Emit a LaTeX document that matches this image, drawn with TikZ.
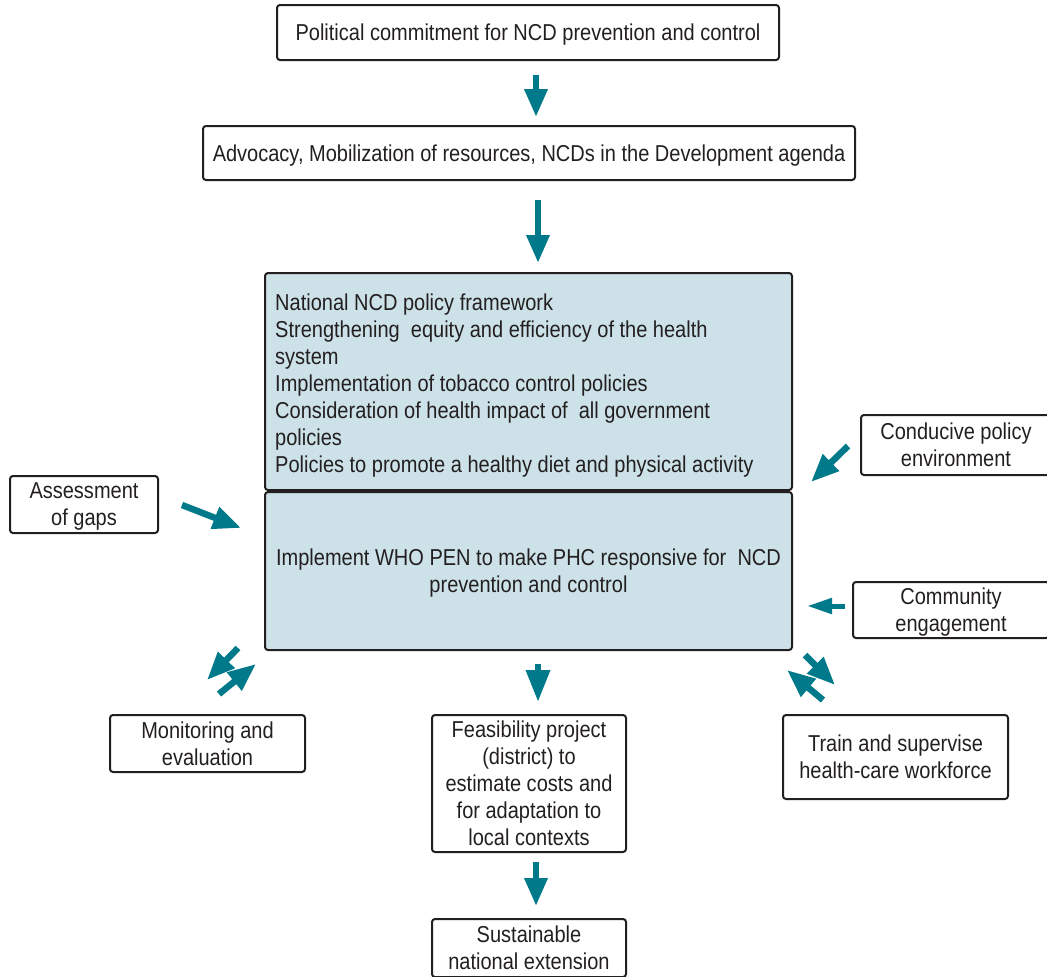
\documentclass[tikz,border=0pt]{standalone}
\usepackage{fontspec}
\setmainfont{Liberation Sans}[FakeStretch=0.87]
\usetikzlibrary{arrows.meta}

\definecolor{teal}{HTML}{00798A}
\definecolor{paleblue}{HTML}{CCE2E8}
\definecolor{ink}{HTML}{231F20}

\tikzset{
  box/.style={draw=ink, line width=2pt, rounded corners=3pt, text=ink, align=center,
    inner sep=0pt, text depth=0pt, font=\fontsize{23}{27}\selectfont},
  flow/.style={draw=teal, line width=6.5pt, -{Triangle[width=22pt,length=28pt]}, teal},
}

\begin{document}
\begin{tikzpicture}[x=1pt,y=-1pt]
  \useasboundingbox (0,0) rectangle (1047,977);
  % boxes
  \node[box, minimum width=502pt, minimum height=55pt] (pol) at (528,32.5) {Political commitment for NCD prevention and control};
  \node[box, minimum width=652pt, minimum height=54pt] (adv) at (529,153) {Advocacy, Mobilization of resources, NCDs in the Development agenda};
  \node[box, fill=paleblue, minimum width=527pt, minimum height=217pt] (policy) at (528.5,381.5) {};
  \node[text=ink, align=left, anchor=north west, inner sep=0pt, font=\fontsize{23}{27}\selectfont] (policytxt) at (275,294)
    {National NCD policy framework\\
     Strengthening\ \ equity and efficiency of the health\\
     system\\
     Implementation of tobacco control policies\\
     Consideration of health impact of\ \ all government\\
     policies\\
     Policies to promote a healthy diet and physical activity};
  \node[box, fill=paleblue, minimum width=527pt, minimum height=158pt] (pen) at (528.5,571)
    {Implement WHO PEN to make PHC responsive for\ \ NCD\\prevention and control};
  \node[box, minimum width=148pt, minimum height=57pt] (gaps) at (84,504.5) {Assessment\\of gaps};
  \node[box, minimum width=190pt, minimum height=60pt] (cond) at (956,445) {Conducive policy\\environment};
  \node[box, minimum width=196pt, minimum height=56pt] (comm) at (951,610) {Community\\engagement};
  \node[box, minimum width=195pt, minimum height=57pt] (mon) at (207.5,743.5) {Monitoring and\\evaluation};
  \node[box, minimum width=194pt, minimum height=137pt] (feas) at (529,783.5) {Feasibility project\\(district) to\\estimate costs and\\for adaptation to\\local contexts};
  \node[box, minimum width=225pt, minimum height=84pt] (train) at (895.5,757) {Train and supervise\\health-care workforce};
  \node[box, minimum width=194pt, minimum height=58pt] (ext) at (529,948) {Sustainable\\national extension};
  % arrow ends
  \coordinate (a1s) at (536,75);  \coordinate (a1e) at (536,117);
  \coordinate (a2s) at (538,200); \coordinate (a2e) at (538,263);
  \coordinate (a3s) at (182,505); \coordinate (a3e) at (241,528);
  \coordinate (a4s) at (848,446); \coordinate (a4e) at (811,482);
  \coordinate (a6s) at (238,648); \coordinate (a6e) at (207,680);
  \coordinate (a7s) at (219,694); \coordinate (a7e) at (256,664);
  \coordinate (a9s) at (805,655); \coordinate (a9e) at (835,685);
  \coordinate (a10s) at (823,700); \coordinate (a10e) at (787,670);
  \coordinate (a11s) at (536,862); \coordinate (a11e) at (536,906);
  \coordinate (a5s) at (845,606); \coordinate (a5e) at (807,606);
  \coordinate (a8s) at (538,664); \coordinate (a8e) at (538,702);
  % arrows
  \foreach \i in {1,2,3,4,6,7,9,10,11}
    \draw[flow] (a\i s) -- (a\i e);
  \draw[flow, line width=5pt, -{Triangle[width=15pt,length=25pt]}] (a5s) -- (a5e);
  \draw[flow, -{Triangle[width=23pt,length=32pt]}] (a8s) -- (a8e);
\end{tikzpicture}
\end{document}
